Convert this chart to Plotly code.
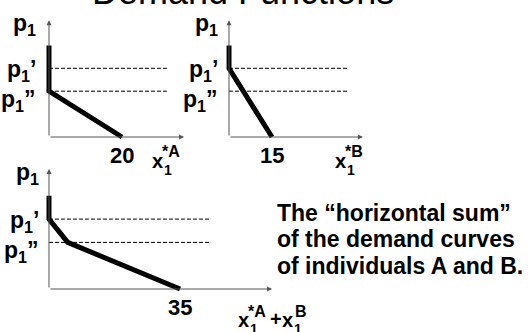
import plotly.graph_objects as go

W, H = 528, 332

# ---------------- data ----------------
title_text = "Demand Functions"

price_prime = 3.0      # p1'
price_dprime = 2.0     # p1''
price_levels = [price_prime, price_dprime]

qty_A = [0, 0, 20]
price_A = [4.0, 2.0, 0.0]

qty_B = [0, 0, 15]
price_B = [4.0, 3.0, 0.0]

qty_sum = [0, 0, 5, 35]
price_sum = [4.0, 3.0, 2.0, 0.0]

qty_ticks = [20, 15, 35]
qty_tick_labels = ["20", "15", "35"]

note_lines = ["The “horizontal sum”", "of the demand curves", "of individuals A and B."]

# ---------------- layout helpers ----------------
FONT = "Liberation Sans, Arial, Helvetica, sans-serif"
XPAD, YPAD = 1.0, 0.3

panels = [
    dict(ox=49, oy=137, sx=3.65, sy=22.9, xmax=37.0, ymax=5.1, dash_frac=0.873,
         qty=qty_A, price=price_A, lab_dx=-11),
    dict(ox=229, oy=137, sx=2.867, sy=22.9, xmax=46.7, ymax=5.1, dash_frac=0.888,
         qty=qty_B, price=price_B, lab_dx=-9),
    dict(ox=49, oy=289, sx=3.743, sy=23.3, xmax=59.6, ymax=5.15, dash_frac=0.722,
         qty=qty_sum, price=price_sum, lab_dx=-8),
]

fig = go.Figure()
annotations = []
layout_axes = {}

for i, p in enumerate(panels):
    n = "" if i == 0 else str(i + 1)
    xr, yr = "x" + n, "y" + n
    x_dom = [(p["ox"] - XPAD * p["sx"]) / W, (p["ox"] + p["xmax"] * p["sx"]) / W]
    y_bot = p["oy"] + YPAD * p["sy"]
    y_top = p["oy"] - p["ymax"] * p["sy"]
    y_dom = [1 - y_bot / H, 1 - y_top / H]
    layout_axes["xaxis" + n] = dict(domain=x_dom, range=[-XPAD, p["xmax"]], visible=False,
                                    anchor=yr, fixedrange=True)
    layout_axes["yaxis" + n] = dict(domain=y_dom, range=[-YPAD, p["ymax"]], visible=False,
                                    anchor=xr, fixedrange=True)

    # dashed price levels
    for lvl in price_levels:
        fig.add_trace(go.Scatter(x=[0, p["xmax"] * p["dash_frac"]], y=[lvl, lvl], mode="lines",
                                 line=dict(color="black", width=1, dash="4px,2px"),
                                 xaxis=xr, yaxis=yr, hoverinfo="skip"))
    # demand curve
    fig.add_trace(go.Scatter(x=p["qty"], y=p["price"], mode="lines",
                             line=dict(color="black", width=5),
                             xaxis=xr, yaxis=yr, hoverinfo="skip"))

    # axes with arrows
    for (hx, hy) in [(p["xmax"], 0), (0, p["ymax"])]:
        annotations.append(dict(x=hx, y=hy, ax=0, ay=0, xref=xr, yref=yr, axref=xr, ayref=yr,
                                text="", showarrow=True, arrowhead=2, arrowsize=1,
                                arrowwidth=1, arrowcolor="#555"))

    # price labels
    lab_font = dict(family=FONT, size=23, color="black")
    annotations.append(dict(x=0, y=p["ymax"], xref=xr, yref=yr, text="<b>p<sub>1</sub></b>",
                            showarrow=False, xanchor="right", yanchor="middle",
                            xshift=p["lab_dx"], yshift=-4, font=lab_font))
    annotations.append(dict(x=0, y=price_prime, xref=xr, yref=yr, text="<b>p<sub>1</sub>’</b>",
                            showarrow=False, xanchor="right", yanchor="middle",
                            xshift=p["lab_dx"], yshift=-2, font=lab_font))
    annotations.append(dict(x=0, y=price_dprime, xref=xr, yref=yr, text="<b>p<sub>1</sub>”</b>",
                            showarrow=False, xanchor="right", yanchor="middle",
                            xshift=p["lab_dx"], yshift=-9, font=lab_font))

    # quantity intercept label
    annotations.append(dict(x=qty_ticks[i], y=0, xref=xr, yref=yr, text="<b>%s</b>" % qty_tick_labels[i],
                            showarrow=False, xanchor="center", yanchor="top", yshift=-4,
                            font=dict(family=FONT, size=22, color="black")))


def px_text(text, x_left, y_center, size, bold=True, anchor="left"):
    annotations.append(dict(x=x_left / W, y=1 - y_center / H, xref="paper", yref="paper",
                            text=("<b>%s</b>" % text) if bold else text, showarrow=False,
                            xanchor=anchor, yanchor="middle",
                            font=dict(family=FONT, size=size, color="black")))


def x_label(x_left, y_center, sup):
    px_text("x", x_left, y_center, 20)
    px_text("1", x_left + 12, y_center + 9, 14)
    px_text(sup, x_left + 10, y_center - 9, 16)


x_label(150, 161, "*A")
x_label(333, 161, "*B")
x_label(236, 320, "*A")
px_text("+", 268, 319, 20)
px_text("x", 280, 320, 20)
px_text("1", 292, 329, 14)
px_text("B", 293, 311, 16)

# title (mostly cut off at top)
px_text(title_text, 242.5, -8.5, 36, bold=False, anchor="center")

# note
for k, line in enumerate(note_lines):
    px_text(line, 275, [212.5, 239, 265.5][k], 23)

fig.update_layout(width=W, height=H, margin=dict(l=0, r=0, t=0, b=0),
                  paper_bgcolor="white", plot_bgcolor="rgba(0,0,0,0)",
                  showlegend=False, annotations=annotations, **layout_axes)

fig.write_html("out.html", config={"displayModeBar": False},
               post_script="document.body.style.margin='0';")
